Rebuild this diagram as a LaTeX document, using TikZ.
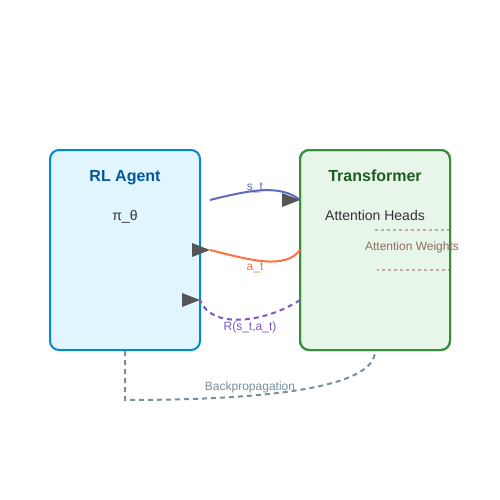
\documentclass[tikz,border=0pt]{standalone}
\usepackage{fontspec}
\setmainfont{Liberation Sans}
\definecolor{agentfill}{HTML}{E1F5FE}
\definecolor{agentdraw}{HTML}{0288D1}
\definecolor{agenttitle}{HTML}{01579B}
\definecolor{tffill}{HTML}{E8F5E9}
\definecolor{tfdraw}{HTML}{388E3C}
\definecolor{tftitle}{HTML}{1B5E20}
\definecolor{txt}{HTML}{333333}
\definecolor{stcol}{HTML}{5C6BC0}
\definecolor{atcol}{HTML}{FF7043}
\definecolor{rcol}{HTML}{7E57C2}
\definecolor{bpcol}{HTML}{78909C}
\definecolor{awtext}{HTML}{8D6E63}
\definecolor{awline}{HTML}{BCAAA4}
\definecolor{tipcol}{HTML}{555555}
\begin{document}
\begin{tikzpicture}[x=1pt,y=-1pt,
  boxbase/.style={rectangle,rounded corners=9pt,line width=2pt,minimum width=150pt,minimum height=200pt,inner sep=0pt},
  agentbox/.style={boxbase,fill=agentfill,draw=agentdraw},
  tfbox/.style={boxbase,fill=tffill,draw=tfdraw},
  titletext/.style={font=\fontsize{16}{19}\selectfont\bfseries,inner sep=0pt,anchor=base},
  bodytext/.style={font=\fontsize{14}{17}\selectfont,text=txt,inner sep=0pt,anchor=base},
  smalltext/.style={font=\fontsize{12}{14}\selectfont,inner sep=0pt,anchor=base},
  conn/.style={line width=2pt},
  tipfill/.style={fill=tipcol}]
\useasboundingbox (0,0) rectangle (500,500);
\fill[white] (0,0) rectangle (500,500);
% boxes
\node[agentbox] (agent) at (125,250) {};
\node[tfbox] (tf) at (375,250) {};
\node[titletext,text=agenttitle] (agenttitle) at (125,181) {RL Agent};
\node[titletext,text=tftitle] (tftitle) at (375,181) {Transformer};
\node[bodytext] (pi) at (125,220) {π\_θ};
\node[bodytext] (heads) at (375,220) {Attention Heads};
% attention weights bracket
\coordinate (awa) at (375,230);
\coordinate (awb) at (450,230);
\coordinate (awc) at (450,270);
\coordinate (awd) at (377,270);
\draw[awline,line width=1.5pt,dash pattern=on 3pt off 3pt] (awa) -- (awb) -- (awc) -- (awd);
\node[boxbase,draw=tfdraw] (tfborder) at (tf.center) {};
\node[smalltext,text=awtext] (aw) at (412,250) {Attention Weights};
% connector endpoints
\coordinate (s0) at (210,200);
\coordinate (s1) at (300,200);
\coordinate (a0) at (300,250);
\coordinate (a1) at (210,250);
\coordinate (r0) at (300,300);
\coordinate (r1) at (200,300);
\coordinate (b0) at (agent.south);
\coordinate (bc) at (125,400);
\coordinate (b1) at (tf.south);
% s_t
\draw[conn,stcol] (s0) .. controls (250,190) and (280,184) .. (s1);
\fill[tipfill] (s1) -- ++(-18,-7) -- ++(0,14) -- cycle;
\node[smalltext,text=stcol] (st) at (255,190) {s\_t};
% a_t
\draw[conn,atcol] (a0) .. controls (285,270) and (250,260) .. (a1);
\fill[tipfill] (a1) -- ++(-18,-7) -- ++(0,14) -- cycle;
\node[smalltext,text=atcol] (at) at (255,270) {a\_t};
% reward
\draw[conn,rcol,dash pattern=on 5pt off 4pt] (r0) .. controls (270,320) and (213,332) .. (r1);
\fill[tipfill] (r1) -- ++(-18,-7) -- ++(0,14) -- cycle;
\node[smalltext,text=rcol] (rw) at (250,330) {R(s\_t,a\_t)};
% backpropagation
\draw[conn,bpcol,dash pattern=on 5pt off 4pt] (b0) -- (bc) .. controls (291.7,400) and (375,383.3) .. (b1);
\node[smalltext,text=bpcol] (bp) at (250,390) {Backpropagation};
\end{tikzpicture}
\end{document}
